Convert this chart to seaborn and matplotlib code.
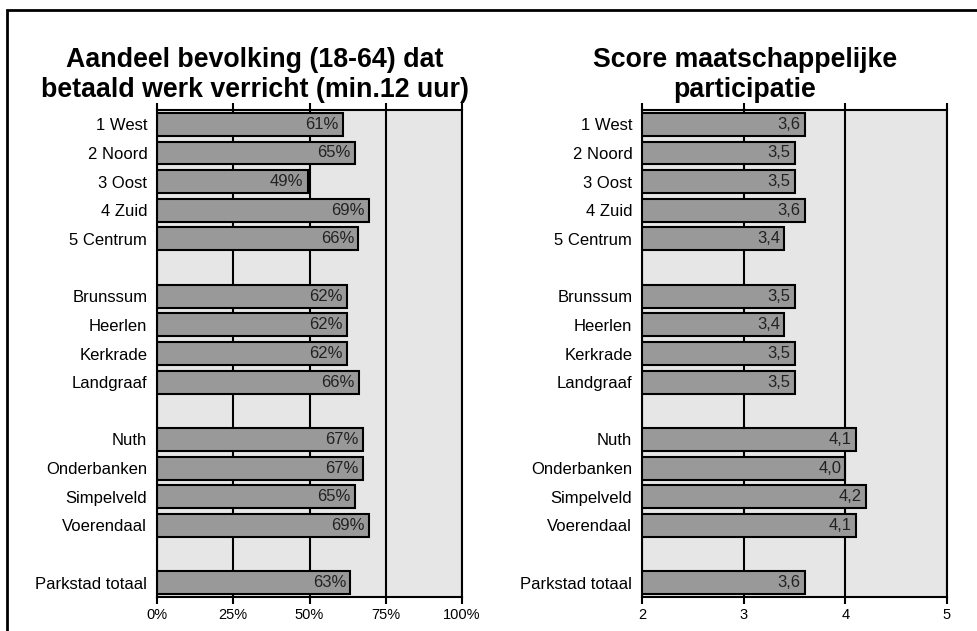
import matplotlib
matplotlib.use("Agg")
import matplotlib.pyplot as plt
import seaborn as sns
import pandas as pd
from matplotlib.patches import Rectangle

plt.rcParams["font.family"] = ["Liberation Sans", "DejaVu Sans"]

# row order, blanks are the gap rows between the groups
order = ["1 West", "2 Noord", "3 Oost", "4 Zuid", "5 Centrum", " ",
         "Brunssum", "Heerlen", "Kerkrade", "Landgraaf", "  ",
         "Nuth", "Onderbanken", "Simpelveld", "Voerendaal", "   ",
         "Parkstad totaal"]
regions = ["1 West", "2 Noord", "3 Oost", "4 Zuid", "5 Centrum",
           "Brunssum", "Heerlen", "Kerkrade", "Landgraaf",
           "Nuth", "Onderbanken", "Simpelveld", "Voerendaal",
           "Parkstad totaal"]
werk = [61.0, 64.8, 49.4, 69.4, 66.0,
        62.3, 62.3, 62.3, 66.2,
        67.4, 67.4, 64.8, 69.4,
        63.4]
participatie = [3.6, 3.5, 3.5, 3.6, 3.4,
                3.5, 3.4, 3.5, 3.5,
                4.1, 4.0, 4.2, 4.1,
                3.6]

title_left = "Aandeel bevolking (18-64) dat\nbetaald werk verricht (min.12 uur)"
title_right = "Score maatschappelijke\nparticipatie"

df_left = pd.DataFrame({"regio": regions, "waarde": werk})
df_right = pd.DataFrame({"regio": regions, "waarde": participatie})

W, H = 977, 631
fig = plt.figure(figsize=(W / 100, H / 100), dpi=100)

ax1 = fig.add_axes([157 / W, (H - 597) / H, 305 / W, 487 / H])
ax2 = fig.add_axes([642 / W, (H - 597) / H, 305 / W, 487 / H])


def draw(ax, df, xlim, ticks, ticklabels, fmt):
    ax.set_facecolor("#e6e6e6")
    sns.barplot(data=df, y="regio", x="waarde", order=order, orient="h",
                color="#999999", edgecolor="black", linewidth=1.5,
                width=0.8, saturation=1, ax=ax, zorder=3)
    ax.set_xlim(*xlim)
    ax.set_ylim(len(order) - 0.5, -0.5)
    ax.set_xticks(ticks)
    ax.set_xticklabels(ticklabels, fontsize=10.5)
    ax.set_xlabel("")
    ax.set_ylabel("")
    ax.set_axisbelow(True)
    ax.grid(axis="x", color="black", linewidth=1.5, zorder=1)
    ax.grid(axis="y", visible=False)
    for s in ax.spines.values():
        s.set_color("black")
        s.set_linewidth(1.5)
        s.set_zorder(4)
    ax.tick_params(axis="y", length=0, pad=7, labelsize=12)
    ax.tick_params(axis="x", direction="out", length=5, width=1.5,
                   top=True, labeltop=False, pad=3)
    for cont in ax.containers:
        labels = ax.bar_label(cont, fmt=fmt, padding=-3, fontsize=12,
                              color="#222222", zorder=5)
        for t in labels:
            t.set_ha("right")


draw(ax1, df_left, (0, 100), [0, 25, 50, 75, 100],
     ["0%", "25%", "50%", "75%", "100%"], lambda v: f"{v:.0f}%")
draw(ax2, df_right, (2, 5), [2, 3, 4, 5],
     ["2", "3", "4", "5"], lambda v: f"{v:.1f}".replace(".", ","))

fig.text(255 / W, (H - 75) / H, title_left, ha="center", va="center",
         fontsize=19.3, fontweight="bold", linespacing=1.22)
fig.text(745 / W, (H - 75) / H, title_right, ha="center", va="center",
         fontsize=19.3, fontweight="bold", linespacing=1.22)

# outer frame of the chart
fig.patches.append(Rectangle((7 / W, -0.05), 1.2, (H - 10) / H + 0.05,
                             transform=fig.transFigure, fill=False,
                             edgecolor="black", linewidth=2))

fig.savefig("out.png", dpi=100)
